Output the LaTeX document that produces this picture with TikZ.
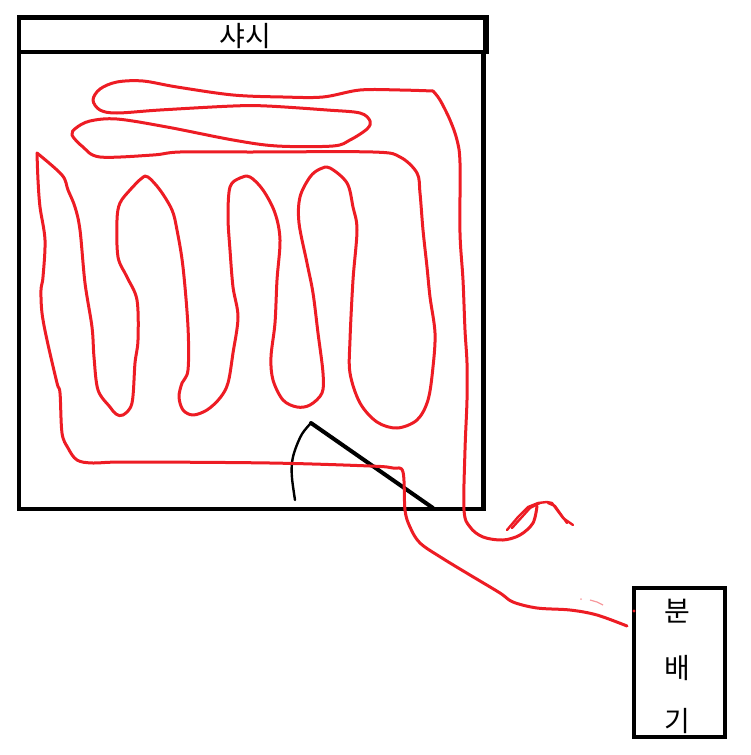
\documentclass[tikz,border=0pt]{standalone}
\usepackage{fontspec}
\newfontfamily\kofont{Noto Sans CJK KR}
\usetikzlibrary{positioning}
\definecolor{paintred}{RGB}{237,28,36}
\tikzset{
  wall/.style={ % thick black outline of chassis and distributor
    draw=black, line width=4.5pt
  },
  door/.style={ % the door line and its swing
    draw=black, line cap=round
  },
  pipe/.style={ % the red heating pipe
    draw=paintred, line width=3pt, line cap=round, line join=round
  },
  hangul/.style={ % korean lettering
    font=\kofont\fontsize{28}{28}\selectfont, inner sep=0pt, text=black
  }
}

\begin{document}
\begin{tikzpicture}[x=1pt, y=-1pt]
  \useasboundingbox (0,0) rectangle (750,755);

  % chassis
  \draw[wall] (19,17.5) rectangle (486.5,52);
  \draw[wall, line width=6pt] (486,17.5) -- (486,52);
  \draw[wall] (19,52) -- (19,509) -- (483.5,509) -- (483.5,52);
  \node[hangul] (title) at (245,36) {샤시};

  % distributor
  \node[wall, minimum width=91pt, minimum height=149pt] (dist) at (679.5,662.5) {};
  \node[hangul] (bun) at (677,611) {분};
  \node[hangul] (bae) at (677,668) {배};
  \node[hangul] (gi)  at (677,721) {기};

  % door
  \coordinate (hinge) at (311,423);
  \draw[door, line width=4pt] (hinge) -- (433,508);
  \draw[door, line width=2.4pt] plot[smooth, tension=0.6] coordinates {
    (311,423) (302,434) (295,450) (292,463) (292,478) (295,500)};

  % pipe
  \draw[pipe] plot[smooth, tension=0.55] coordinates {
    (537,506) (533,523) (520,535) (503,540) (483,537) (470,527) (464,510)
    (465,450) (467,400) (467,363) (465,330) (463,280) (460,233) (460,163)
    (457,140) (450,120) (440,100) (433,91)};
  \draw[pipe] plot[smooth, tension=0.55] coordinates {
    (433,91) (400,90) (360,90) (323,97) (283,97) (233,95) (177,87) (143,81)
    (117,82) (100,89) (93,100) (100,110) (117,113) (160,110) (233,106)
    (267,106) (327,110) (360,113) (370,121) (367,129) (350,140) (333,146)
    (277,146) (233,140) (167,127) (117,119) (90,121) (76,128) (72,135)
    (83,147) (100,157) (153,155) (180,152) (250,152) (373,152) (400,157)
    (417,173) (420,193) (423,230) (427,267) (430,297) (435,333) (433,367)
    (428,400) (417,420) (397,428) (377,422) (360,403) (350,373) (350,340)
    (353,280) (357,230) (353,207) (347,183) (330,168) (320,169) (310,177)
    (300,197) (299,223) (307,263) (313,293) (318,333) (323,373) (322,393)
    (310,405) (297,407) (283,400) (273,380) (271,357) (275,323) (277,280)
    (280,240) (275,213) (263,190) (250,177) (240,178) (230,187) (228,217)
    (230,250) (233,287) (238,317) (233,353) (228,383) (220,398) (207,410)
    (193,415) (183,410) (179,397) (182,383) (188,370) (188,327) (183,267)
    (177,230) (172,210) (160,190) (148,177) (142,178) (130,190) (120,203)
    (117,220) (118,257) (127,277) (137,300) (138,340) (135,363) (132,403)
    (123,415) (116,414) (110,407) (98,390) (94,357) (92,327) (85,283)
    (80,230) (75,207) (68,190) (62,175) (37,153)};
  \draw[pipe] plot[smooth, tension=0.55] coordinates {
    (37,153) (38,180) (40,207) (45,240) (43,277) (41,290) (42,313) (47,340)
    (57,383) (60,393) (62,433) (68,448) (77,460) (93,463) (127,462)
    (270,463) (370,466) (393,468) (403,472) (405,510) (410,527) (420,543)
    (442,558) (470,575) (500,593) (513,602) (537,608) (570,610) (597,615)
    (627,626)};

  % scribbled end of the pipe
  \draw[pipe, line width=2.4pt] (507,530) -- (518,517) -- (528,507) -- (538,503)
    -- (547,502) -- (552,503) -- (557,510) -- (563,518) -- (573,525);
  \draw[pipe, line width=2.4pt] (512,528) -- (530,508) -- (540,503);
  \draw[pipe, line width=2.4pt] (548,503) -- (555,506) -- (567,523);

  % faint marks
  \fill[paintred!40] (581,599) circle (1pt);
  \draw[paintred!45, line width=1.2pt] (590,600) -- (597,602) -- (603,605);
  \fill[paintred] (634,611) circle (1.6pt);
\end{tikzpicture}
\end{document}
